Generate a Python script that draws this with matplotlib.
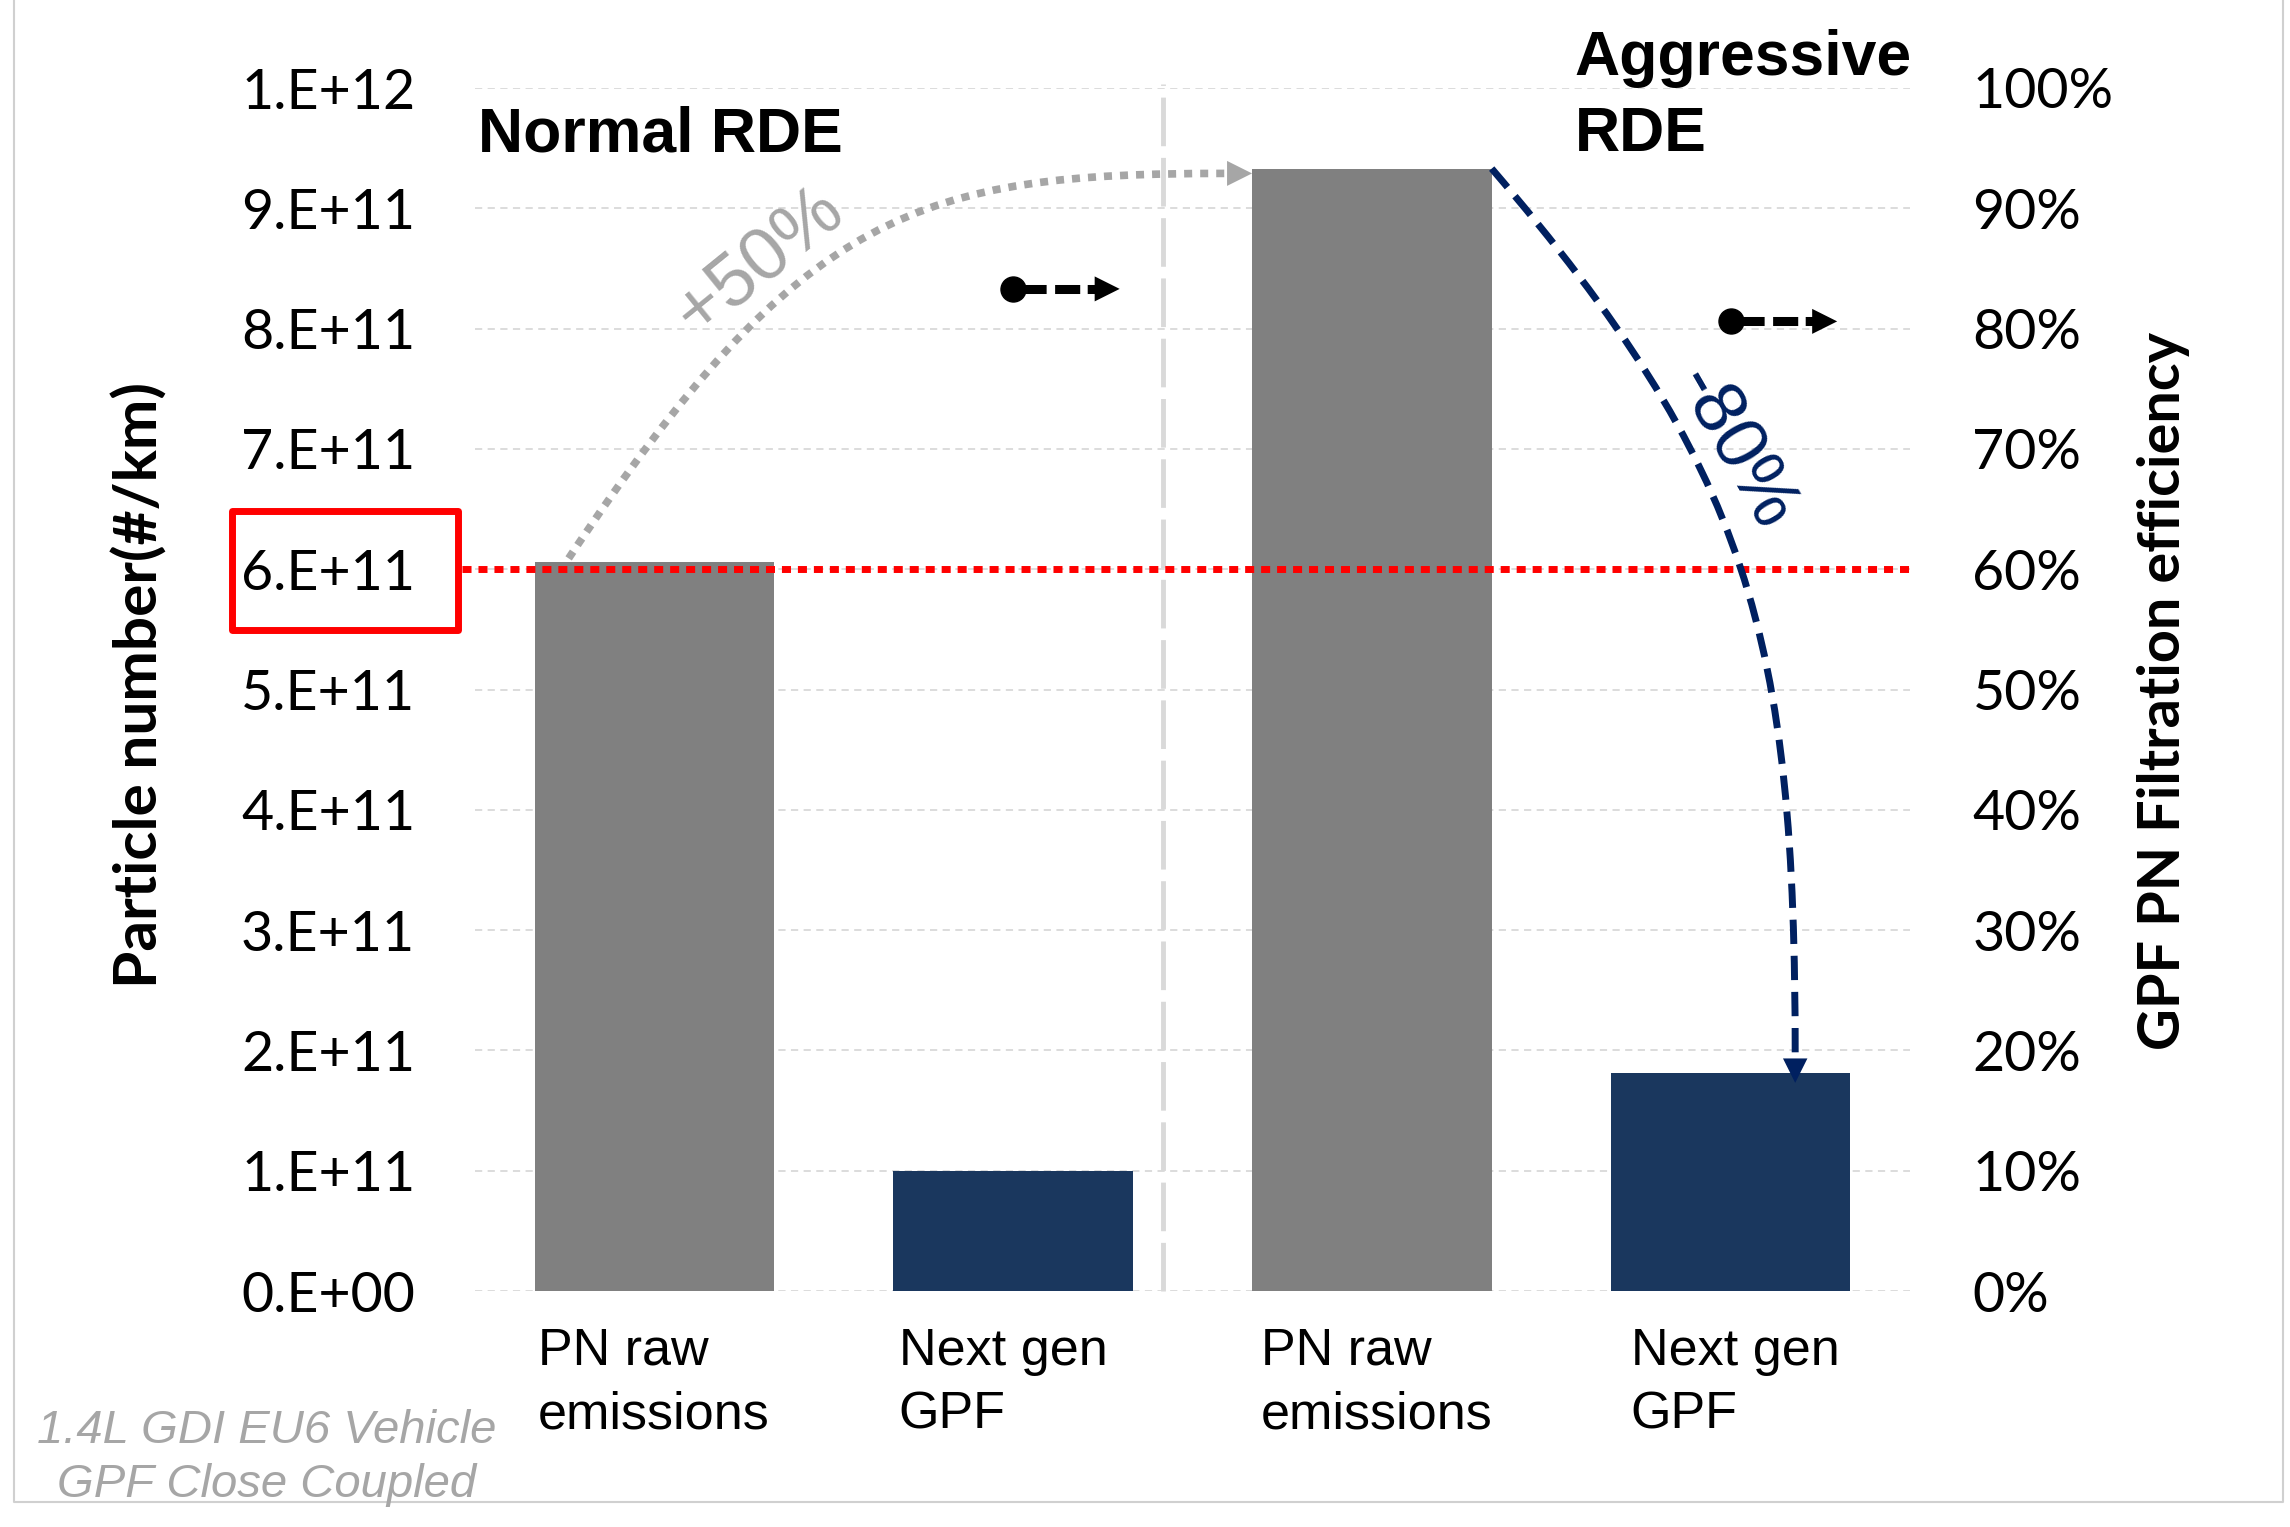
import matplotlib
matplotlib.use("Agg")
import matplotlib.pyplot as plt
import matplotlib.transforms as mtransforms
import numpy as np
from matplotlib import font_manager
from matplotlib.lines import Line2D
from matplotlib.patches import FancyArrowPatch, PathPatch, Rectangle
from matplotlib.path import Path
from matplotlib.ticker import FuncFormatter, PercentFormatter

# data
categories = ["PN raw\nemissions", "Next gen\nGPF", "PN raw\nemissions", "Next gen\nGPF"]
pn_values = [6.06e11, 1.00e11, 9.33e11, 1.81e11]
bar_colors = ["#808080", "#1A375E", "#808080", "#1A375E"]
eff_positions = [1, 3]
filtration_eff = [0.833, 0.806]
pn_limit = 6e11
left_ticks = np.arange(0, 1.01e12, 1e11)
right_ticks = np.arange(0, 1.01, 0.1)

installed = {f.name for f in font_manager.fontManager.ttflist}
NARROW = "Liberation Sans Narrow" if "Liberation Sans Narrow" in installed else "Liberation Sans"
plt.rcParams["font.family"] = ["Lato", "DejaVu Sans"]

W, H = 2290, 1527
NAVY = "#002060"
LGRAY = "#A6A6A6"

fig = plt.figure(figsize=(W / 100, H / 100), dpi=100)
ax = fig.add_axes([475 / W, 1 - 1291 / H, 1435 / W, 1203 / H])

x = np.arange(len(categories))
bar_w = 0.668
ax.bar(x, pn_values, width=bar_w, color=bar_colors, zorder=2)
ax.set_xlim(-0.5, 3.5)
ax.set_ylim(0, 1e12)
ax.set_xticks([])
ax.set_yticks(left_ticks)
ax.yaxis.set_major_formatter(FuncFormatter(lambda v, _: format(v, "#.0E")))
ax.tick_params(axis="y", length=0, pad=43, labelsize=40)
ax.grid(axis="y", color="#D9D9D9", linestyle=(0, (4, 3)), linewidth=1.3)
ax.set_axisbelow(True)
for s in ax.spines.values():
    s.set_visible(False)

ax2 = ax.twinx()
ax2.set_ylim(0, 1)
ax2.set_yticks(right_ticks)
ax2.yaxis.set_major_formatter(PercentFormatter(xmax=1, decimals=0))
ax2.tick_params(axis="y", length=0, pad=45, labelsize=40)
for s in ax2.spines.values():
    s.set_visible(False)

# separator between the two drive cycles
ax.plot([1.418, 1.418], [0, 1.003e12], color="#D9D9D9", lw=3.5,
        linestyle=(0, (10, 2.4)), clip_on=False, zorder=1)

# PN limit line + red box round its tick label
blend = mtransforms.blended_transform_factory(ax.transAxes, ax.transData)
ax.plot([-0.009, 1.0], [pn_limit, pn_limit], transform=blend, color="red", lw=5,
        linestyle=(0, (1.3, 1.0)), clip_on=False, zorder=3)
ax.add_patch(Rectangle((-0.1693, 0.5495e12), 0.1575, 0.0985e12, transform=blend,
                       fill=False, edgecolor="red", lw=5, joinstyle="round",
                       clip_on=False, zorder=3))

# +50 % curve (raw normal -> raw aggressive)
y0 = pn_values[0] + 0.003e12
y1 = pn_values[2] - 0.004e12
gray_path = Path([(-0.239, y0), (0.41, 0.90e12), (0.74, y1), (1.59, y1)],
                 [Path.MOVETO, Path.CURVE4, Path.CURVE4, Path.CURVE4])
ax.add_patch(PathPatch(gray_path, facecolor="none", edgecolor=LGRAY, lw=5.5,
                       linestyle=(0, (1.05, 1.05)), capstyle="butt", zorder=4))
ax.add_patch(FancyArrowPatch((1.59, y1), (2 - bar_w / 2, y1), arrowstyle="-|>",
                             mutation_scale=45, color=LGRAY, lw=0,
                             shrinkA=0, shrinkB=0, zorder=4))
ax.text(0.292, 0.856e12, "+50%", rotation=39, rotation_mode="anchor", ha="center",
        va="center", color=LGRAY, fontsize=54, family="Liberation Sans")

# -80 % curve (raw aggressive -> GPF aggressive)
top3 = pn_values[2]
tip4 = pn_values[3] - 0.008e12
navy_path = Path([(2 + bar_w / 2, top3), (3.054, 0.682e12), (3.18, 0.547e12),
                  (3.18, tip4 + 0.021e12)],
                 [Path.MOVETO, Path.CURVE4, Path.CURVE4, Path.CURVE4])
ax.add_patch(PathPatch(navy_path, facecolor="none", edgecolor=NAVY, lw=5,
                       linestyle=(0, (3.5, 1.7)), capstyle="butt", zorder=4))
ax.add_patch(FancyArrowPatch((3.18, tip4 + 0.021e12), (3.18, tip4), arrowstyle="-|>",
                             mutation_scale=44, color=NAVY, lw=0,
                             shrinkA=0, shrinkB=0, zorder=4))
ax.text(3.01, 0.70e12, "-80%", rotation=-60, rotation_mode="anchor", ha="center",
        va="center", color=NAVY, fontsize=54, family="Liberation Sans")

# filtration efficiency points on the right axis
ax2.plot(eff_positions, filtration_eff, "o", color="black", ms=18, zorder=5)
for xp, e in zip(eff_positions, filtration_eff):
    ax2.plot([xp, xp + 0.234], [e, e], color="black", lw=6.5,
             linestyle=(0, (3.67, 0.94, 2.78, 0.83)), zorder=5)
    ax2.add_patch(FancyArrowPatch((xp + 0.234, e), (xp + 0.297, e), arrowstyle="-|>",
                                  mutation_scale=45, color="black", lw=0,
                                  shrinkA=0, shrinkB=0, zorder=5))

# category labels under the bars
label_dx = [0.01, 0.015, 0.025, 0.055]
for i, lab in enumerate(categories):
    for j, line in enumerate(lab.split("\n")):
        ax.text(x[i] - bar_w / 2 + label_dx[i], [-0.0615e12, -0.1147e12][j], line,
                ha="left", va="baseline", fontsize=37.5, family=NARROW, clip_on=False)

# section titles
ax.text(-0.493, 0.9468e12, "Normal RDE", fontsize=45, fontweight="bold",
        family=NARROW, va="baseline")
ax.text(2.566, 1.0111e12, "Aggressive", fontsize=45, fontweight="bold",
        family=NARROW, va="baseline", clip_on=False)
ax.text(2.566, 0.9476e12, "RDE", fontsize=45, fontweight="bold",
        family=NARROW, va="baseline")

# axis titles
fig.text(140 / W, 1 - 685 / H, "Particle number(#/km)", rotation=90, ha="center",
         va="center", fontsize=43.5, fontweight="bold")
fig.text(2164 / W, 1 - 691 / H, "GPF PN Filtration efficiency", rotation=90,
         ha="center", va="center", fontsize=41.5, fontweight="bold")

# vehicle note
fig.text(267 / W, 1 - 1443 / H, "1.4L GDI EU6 Vehicle", ha="center", va="baseline",
         style="italic", color=LGRAY, fontsize=34, family=NARROW)
fig.text(267 / W, 1 - 1497 / H, "GPF Close Coupled", ha="center", va="baseline",
         style="italic", color=LGRAY, fontsize=34, family=NARROW)

# outer frame
fig.add_artist(Line2D([14 / W, 14 / W, 2283 / W, 2283 / W],
                      [1.0, 1 - 1502 / H, 1 - 1502 / H, 1.0],
                      transform=fig.transFigure, color="#D0D0D0", lw=1.5))

fig.savefig("out.png", dpi=100)
